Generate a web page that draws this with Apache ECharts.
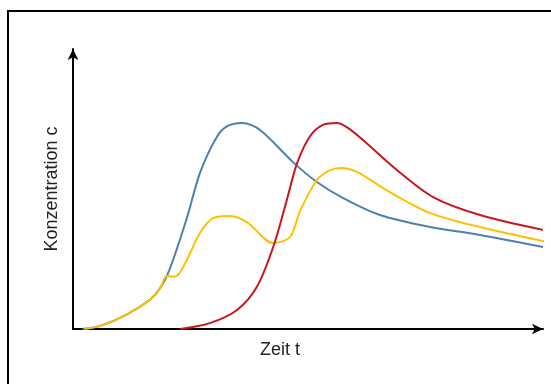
<!DOCTYPE html>
<html>
<head>
<meta charset="utf-8">
<script src="https://cdn.jsdelivr.net/npm/echarts@6/dist/echarts.min.js"></script>
<style>
html,body{margin:0;padding:0;background:#fff;}
#c{width:551px;height:384px;}
</style>
</head>
<body>
<div id="c"></div>
<script>
// time t (arbitrary units) vs concentration c (arbitrary units)
var blueData = [[2,0],[6,1.2],[11.5,5.2],[16.4,10.5],[18.5,14.5],[20.5,21],[24.3,40],[27,55.7],[30.6,68.6],[33,72.6],[36,73.6],[39.8,71.1],[46.8,59.6],[51.9,52.5],[57.4,46.8],[65.3,40.7],[76,36.4],[86.6,33.6],[100,29.3]];
var redData = [[22.8,0],[29.1,2.1],[34.9,6.8],[39.1,15],[42.6,29.3],[45.5,46.1],[47.7,59.3],[50.5,69],[53.3,73],[56.2,73.6],[58.8,71.5],[61.7,67.5],[68.9,56.8],[76.6,47.1],[86.6,40.7],[100,35.4]];
var yellowData = [[2.5,0],[6,1.2],[11.5,5.2],[16.4,10.5],[18.5,14.5],[20,19],[21.3,18.7],[22.6,19.8],[24.6,26],[27,34.3],[29.8,39.6],[33.4,40.4],[37,38.2],[42.6,30.7],[46.2,32.9],[48.3,42.1],[51.9,53.2],[54.5,56.6],[57,57.5],[60.4,56.1],[67.4,48.9],[76,41.4],[86.6,36.4],[100.8,31.1]];
var xName = 'Zeit t';
var yName = 'Konzentration c';

var chart = echarts.init(document.getElementById('c'), null, {renderer:'canvas'});
function line(data, color){
  return {type:'line', data:data, smooth:0.3, symbol:'none', clip:false,
    lineStyle:{color:color, width:2}};
}
chart.setOption({
  animation:false,
  grid:{left:73, right:8, top:49, bottom:55},
  xAxis:{type:'value', min:0, max:100, name:xName, nameLocation:'middle', nameGap:12,
    nameTextStyle:{fontFamily:'Liberation Sans', fontSize:18, color:'#222', padding:[0,56,0,0]},
    axisLine:{lineStyle:{color:'#000', width:2}, symbol:['none','arrow'], symbolSize:[8,11]},
    axisTick:{show:false}, axisLabel:{show:false}, splitLine:{show:false}},
  yAxis:{type:'value', min:0, max:100, name:yName, nameLocation:'middle', nameGap:12,
    nameTextStyle:{fontFamily:'Liberation Sans', fontSize:18, color:'#222'},
    axisLine:{lineStyle:{color:'#000', width:2}, symbol:['none','arrow'], symbolSize:[8,11]},
    axisTick:{show:false}, axisLabel:{show:false}, splitLine:{show:false}},
  graphic:[{type:'polyline', shape:{points:[[8,384],[8,11],[551,11]]},
    style:{stroke:'#000', lineWidth:2, fill:null}}],
  series:[line(blueData,'#4f7fae'), line(yellowData,'#ffc000'), line(redData,'#c8161d')]
});
</script>
</body>
</html>
